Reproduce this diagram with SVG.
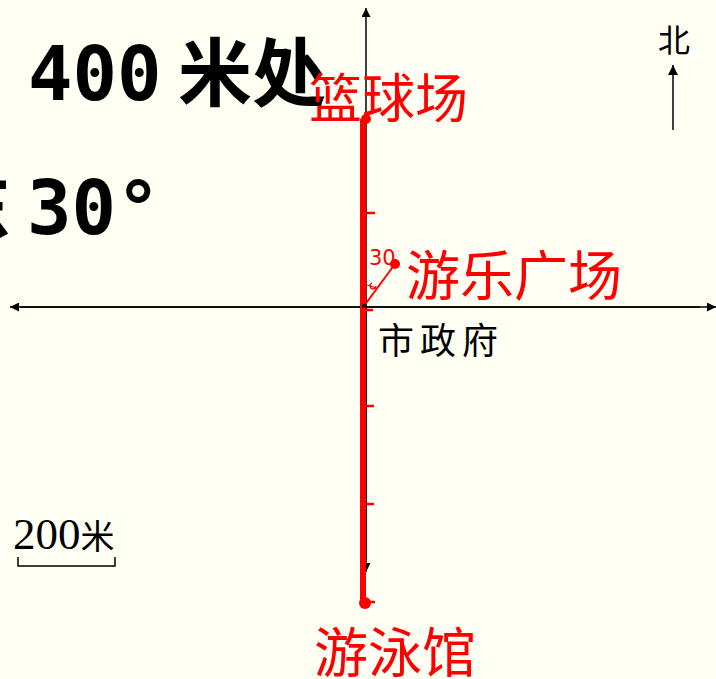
<svg xmlns="http://www.w3.org/2000/svg" width="716" height="679" viewBox="0 0 716 679">
<defs>
<style>
.axis{stroke:#000;stroke-width:1.5;fill:none}
.red{stroke:#f00;fill:none}
.lbl{fill:#f00;font-family:"Noto Sans CJK SC",sans-serif}
.num{fill:#f00;font-family:"DejaVu Sans",sans-serif;font-size:21px}
.big{fill:#000;font-family:"DejaVu Sans Mono","Noto Sans CJK SC",monospace;font-weight:bold;font-size:74px}
.srf{fill:#000;font-family:"Liberation Serif","Noto Sans CJK SC",serif}
</style>
<marker id="ah" viewBox="0 0 10 10" refX="10" refY="5" markerWidth="9" markerHeight="9" markerUnits="userSpaceOnUse" orient="auto">
<path d="M0,0 L10,5 L0,10 z" fill="#000"/>
</marker>
<marker id="ahn" viewBox="0 0 10 10" refX="10" refY="5" markerWidth="11" markerHeight="10" markerUnits="userSpaceOnUse" orient="auto">
<path d="M0,0 L10,5 L0,10 z" fill="#000"/>
</marker>
</defs>
<rect width="716" height="679" fill="#FFFFF3"/>
<g id="title">
<text class="big" x="28" y="100">400 <tspan x="178">米处</tspan></text>
<text class="big" x="-63" y="234">东 <tspan x="27">30°</tspan></text>
</g>
<g id="connectors">
<line class="axis" x1="366" y1="560" x2="366" y2="8" marker-end="url(#ah)"/>
<line class="axis" x1="366" y1="300" x2="366" y2="572" marker-end="url(#ah)"/>
<line class="axis" x1="700" y1="307" x2="10" y2="307" marker-end="url(#ah)"/>
<line class="axis" x1="20" y1="307" x2="716" y2="307" marker-end="url(#ah)"/>
<line class="red" x1="363" y1="119" x2="363" y2="604" stroke-width="6"/>
<line class="red" x1="363" y1="213" x2="375" y2="213" stroke-width="2.5"/>
<line class="red" x1="363" y1="310" x2="373" y2="310" stroke-width="2.5"/>
<line class="red" x1="363" y1="406" x2="374" y2="406" stroke-width="2.5"/>
<line class="red" x1="363" y1="504" x2="374" y2="504" stroke-width="2.5"/>
<line class="red" x1="365" y1="602" x2="375" y2="602" stroke-width="2.5"/>
<line class="red" x1="364" y1="306" x2="395" y2="264" stroke-width="2"/>
<path class="red" d="M364,285 A22,22 0 0 1 377,289 M372,283 a3,3 0 1 0 4,3" stroke-width="1.2"/>
<circle cx="364" cy="306" r="2" fill="#000"/>
<line class="axis" x1="673" y1="130" x2="673" y2="65" marker-end="url(#ahn)"/>
<path d="M18,557 V566 H115 V557" class="axis" stroke-width="1.5"/>
</g>
<g id="basketball">
<circle cx="366" cy="119" r="5" fill="#f00"/>
<text class="lbl" x="309" y="118" font-size="53">篮球场</text>
</g>
<g id="amusement">
<circle cx="395" cy="264" r="5" fill="#f00"/>
<text class="num" x="369" y="265">30</text>
<text class="lbl" x="406" y="296" font-size="54">游乐广场</text>
</g>
<g id="cityhall">
<text class="srf" x="378" y="354" font-size="36" letter-spacing="6">市政府</text>
</g>
<g id="pool">
<circle cx="365" cy="603" r="6" fill="#f00"/>
<text class="lbl" x="314" y="673" font-size="54">游泳馆</text>
</g>
<g id="north">
<text class="srf" x="658" y="52" font-size="32">北</text>
</g>
<g id="scale">
<text class="srf" x="13" y="549" font-size="45">200<tspan font-size="34">米</tspan></text>
</g>
</svg>
